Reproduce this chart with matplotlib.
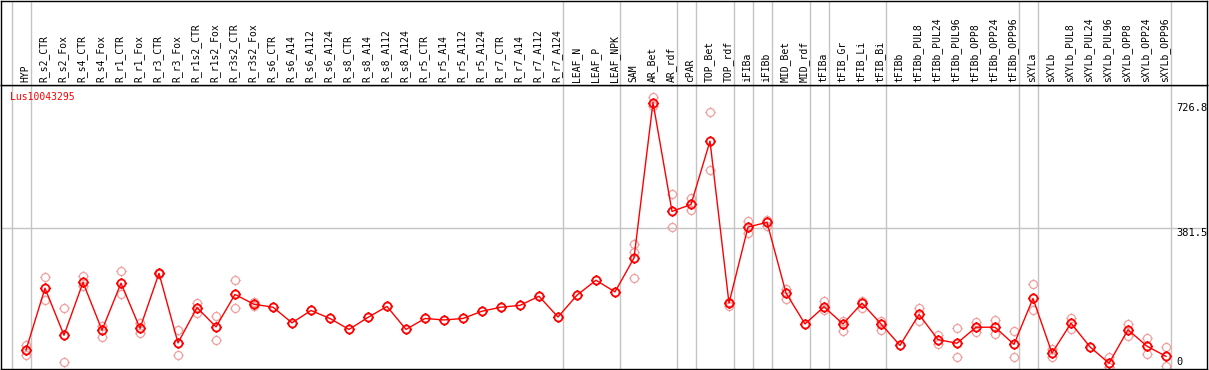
import matplotlib
matplotlib.use('Agg')
import matplotlib.pyplot as plt
from matplotlib.path import Path
import numpy as np

gene = 'Lus10043295'

samples = ['HYP', 'R_s2_CTR', 'R_s2_Fox', 'R_s4_CTR', 'R_s4_Fox', 'R_r1_CTR', 'R_r1_Fox',
           'R_r3_CTR', 'R_r3_Fox', 'R_r1s2_CTR', 'R_r1s2_Fox', 'R_r3s2_CTR', 'R_r3s2_Fox',
           'R_s6_CTR', 'R_s6_A14', 'R_s6_A112', 'R_s6_A124', 'R_s8_CTR', 'R_s8_A14',
           'R_s8_A112', 'R_s8_A124', 'R_r5_CTR', 'R_r5_A14', 'R_r5_A112', 'R_r5_A124',
           'R_r7_CTR', 'R_r7_A14', 'R_r7_A112', 'R_r7_A124', 'LEAF_N', 'LEAF_P', 'LEAF_NPK',
           'SAM', 'AR_Bet', 'AR_rdf', 'cPAR', 'TOP_Bet', 'TOP_rdf', 'iFIBa', 'iFIBb',
           'MID_Bet', 'MID_rdf', 'tFIBa', 'tFIB_Gr', 'tFIB_Li', 'tFIB_Bi', 'tFIBb',
           'tFIBb_PUL8', 'tFIBb_PUL24', 'tFIBb_PUL96', 'tFIBb_OPP8', 'tFIBb_OPP24', 'tFIBb_OPP96',
           'sXYLa', 'sXYLb', 'sXYLb_PUL8', 'sXYLb_PUL24', 'sXYLb_PUL96', 'sXYLb_OPP8',
           'sXYLb_OPP24', 'sXYLb_OPP96']

means = [47.5, 217, 88, 233, 102, 231, 107, 258, 67, 164, 111, 200, 173,
         165, 122, 156, 134, 104, 137, 167, 104, 134, 130, 134, 154,
         165, 170, 195, 138, 198, 239, 207,
         300, 726.8, 428, 447, 621, 176, 385, 398, 204, 119, 166, 119, 176, 119,
         60, 145, 76, 66, 110, 110, 63,
         189, 39, 121, 56, 11, 103, 58, 30]

reps = [[61, 34], [247, 185], [162, 14], [251, 223], [113, 84], [264, 201], [122, 95],
        [260, 256], [102, 34], [176, 149], [142, 75], [239, 162], [180, 167],
        [], [], [], [], [], [], [], [], [], [], [], [], [], [], [], [], [], [], [],
        [338, 316, 244], [741, 717], [476, 384], [465, 432], [700, 541], [180, 168],
        [402, 368], [405, 389], [215, 188], [], [182, 157], [128, 100], [183, 162],
        [128, 103], [], [162, 126], [89, 64], [107, 27], [124, 97], [129, 91], [99, 27],
        [228, 156], [49, 29], [136, 106], [], [27, 0], [119, 85], [80, 36], [55, 4]]

# index of last sample in each group (gray separators)
group_ends = [-1, 0, 28, 31, 34, 35, 37, 38, 39, 41, 42, 45, 52, 53, 60]
y_labels = [0, 381.5, 726.8]

# circle with four little ticks, like the original marker
circ = Path.unit_circle()
tk = Path([(0, 1), (0, 1.3), (0, -1), (0, -1.3), (1, 0), (1.3, 0), (-1, 0), (-1.3, 0)],
          [Path.MOVETO, Path.LINETO] * 4)
target = Path.make_compound_path(circ, tk)

W, H = 1209, 370
fig = plt.figure(figsize=(W / 100, H / 100), dpi=100)
ax = fig.add_axes([1 / W, 1 / H, 1206 / W, 284 / H])
top = fig.add_axes([1 / W, 285 / H, 1206 / W, 84.5 / H])

x = np.arange(len(samples))
xmin, xmax = -1.316, 62.158
for a in (ax, top):
    a.set_xlim(xmin, xmax)
    a.set_xticks([])
    a.set_yticks([])
    for s in a.spines.values():
        s.set_linewidth(1.0)
        s.set_color('black')
    for g in group_ends:
        a.axvline(g + 0.25, color='#c4c4c4', lw=1.0, zorder=0)

top.set_ylim(0, 1)
for i, name in enumerate(samples):
    top.text(i - 0.05, 0.03, name, rotation=90, ha='center', va='bottom',
             family='DejaVu Sans Mono', fontsize=7)

ax.set_ylim(-4.7, 775)
ax.axhline(381.5, color='#c4c4c4', lw=1.0, zorder=0)

for i, r in enumerate(reps):
    for v in r:
        ax.plot(i, v, ls='none', marker=target, ms=7.5, mfc='none', mec='#f0a0a0', mew=0.9)

ax.plot(x, means, color='red', lw=1.0, marker=target, ms=7.5, mfc='none', mec='red', mew=1.3)

tr = ax.get_yaxis_transform()
for v in y_labels:
    ax.text(0.9745, v, '{:g}'.format(v), transform=tr, ha='left',
            va='bottom' if v == 0 else 'top', family='DejaVu Sans Mono', fontsize=7.5)

ax.text(0.0075, 0.975, gene, transform=ax.transAxes, ha='left', va='top',
        color='red', family='DejaVu Sans Mono', fontsize=7)

fig.savefig('out.png', dpi=100)
